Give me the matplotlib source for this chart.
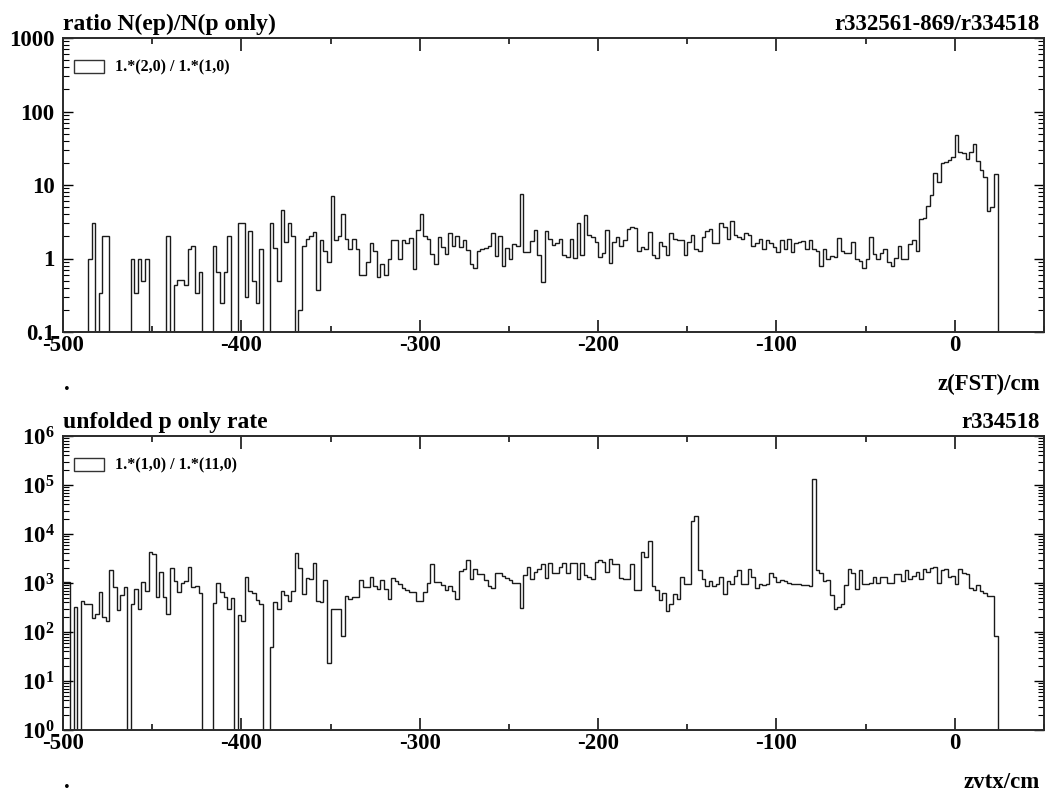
import numpy as np
import matplotlib
matplotlib.use("Agg")
import matplotlib.pyplot as plt
from matplotlib.patches import Rectangle
from matplotlib.ticker import FixedLocator, LogLocator, NullFormatter, FuncFormatter

plt.rcParams["font.family"] = ["Liberation Serif", "DejaVu Serif"]
plt.rcParams["font.weight"] = "bold"
plt.rcParams["mathtext.fontset"] = "custom"
plt.rcParams["mathtext.rm"] = "Liberation Serif:bold"
plt.rcParams["mathtext.bf"] = "Liberation Serif:bold"
plt.rcParams["mathtext.it"] = "Liberation Serif:bold"

# 2 cm bins from -500 to 50 cm
bin_lo, bin_hi, bin_w = -500, 50, 2

# ratio N(ep)/N(p only) per bin
ratio_ep_p = [
    0, 0, 0, 0, 0, 0, 0, 1.0, 3.0, 0,
    0.34, 2.0, 2.0, 0, 0, 0, 0, 0, 0, 1.0,
    0.34, 1.0, 0.5, 1.0, 0, 0, 0, 0, 0, 2.0,
    0, 0.43, 0.51, 0.51, 0.43, 1.34, 1.5, 0.34, 0.66, 0,
    0, 0, 1.5, 0.66, 0.25, 0.66, 2.0, 0, 0, 3.06,
    3.06, 0.30, 2.36, 0.5, 0.25, 1.34, 0, 0, 3.06, 1.41,
    0.5, 4.55, 1.67, 3.06, 2.0, 0, 0.197, 1.5, 1.82, 2.0,
    2.3, 0.37, 1.78, 1.26, 0.89, 7.08, 1.78, 2.0, 4.07, 1.82,
    1.33, 1.82, 1.33, 0.6, 0.6, 0.9, 1.62, 1.26, 0.56, 0.85,
    0.59, 1.0, 1.8, 1.8, 1.0, 1.8, 1.63, 1.9, 0.72, 2.44,
    4.07, 2.04, 1.85, 1.16, 0.85, 1.95, 1.44, 1.16, 2.24, 1.47,
    2.0, 1.44, 1.78, 1.29, 0.83, 0.74, 1.26, 1.35, 1.4, 1.49,
    2.24, 1.08, 2.0, 0.79, 1.38, 0.97, 1.57, 1.49, 7.55, 1.22,
    1.22, 1.72, 2.41, 1.12, 0.48, 2.36, 1.87, 1.55, 1.64, 1.87,
    1.1, 1.05, 1.87, 1.02, 3.0, 1.1, 3.94, 2.08, 1.95, 1.67,
    1.05, 1.2, 2.46, 0.88, 1.67, 1.95, 1.46, 1.8, 2.54, 2.68,
    2.6, 1.26, 1.44, 1.33, 2.26, 1.1, 1.01, 1.67, 1.5, 1.12,
    2.2, 1.82, 1.78, 1.76, 1.1, 1.67, 2.06, 1.35, 1.26, 1.95,
    2.33, 2.51, 1.6, 1.6, 3.0, 2.7, 1.85, 3.2, 2.06, 1.95,
    1.85, 2.24, 2.12, 1.46, 1.6, 1.83, 1.35, 1.78, 1.6, 1.43,
    1.22, 1.76, 1.35, 1.82, 1.23, 1.6, 1.7, 1.74, 1.33, 1.78,
    1.33, 1.25, 0.79, 1.33, 1.0, 1.09, 1.05, 1.88, 1.26, 1.17,
    1.17, 1.67, 1.0, 0.92, 0.75, 1.0, 1.95, 1.15, 1.0, 1.17,
    1.36, 0.9, 0.78, 1.03, 1.5, 1.0, 1.0, 1.57, 1.8, 1.27,
    3.4, 3.6, 5.17, 7.2, 14.4, 11.0, 19.7, 20.8, 21.9, 23.8,
    48.6, 27.9, 27.3, 22.8, 28.5, 35.8, 21.0, 15.8, 12.7, 4.37,
    4.96, 14.1, 0, 0, 0, 0, 0, 0, 0, 0,
    0, 0, 0, 0, 0,
]

# unfolded p-only rate per bin
p_only_rate = [
    1030, 1030, 0, 330, 0, 430, 370, 370, 190, 230,
    670, 200, 170, 1830, 830, 280, 580, 840, 0, 370,
    740, 300, 1050, 700, 4300, 3900, 520, 1700, 520, 230,
    2000, 1100, 650, 1000, 1100, 2150, 830, 850, 620, 0,
    0, 0, 390, 980, 650, 510, 300, 490, 0, 220,
    165, 1300, 690, 620, 450, 370, 0, 0, 50, 410,
    300, 700, 570, 420, 700, 4000, 2000, 600, 1280, 1200,
    2600, 430, 400, 1170, 23, 290, 290, 290, 83, 550,
    465, 520, 520, 1150, 830, 820, 1350, 880, 740, 1150,
    740, 470, 1240, 1100, 950, 790, 720, 650, 650, 420,
    420, 650, 1000, 2450, 1050, 1050, 930, 720, 870, 680,
    480, 1780, 1940, 2950, 1200, 1970, 1520, 1520, 1150, 870,
    780, 1620, 1570, 1390, 1250, 1150, 980, 1000, 305, 1450,
    2150, 1200, 1700, 1900, 2450, 1250, 2600, 1620, 1570, 2150,
    2600, 1570, 2600, 2600, 1200, 2600, 1430, 1350, 1200, 2700,
    2950, 2700, 1680, 3150, 2500, 2400, 1250, 1200, 1200, 2450,
    720, 720, 4300, 3450, 7300, 870, 720, 460, 620, 270,
    370, 600, 480, 1350, 950, 950, 18000, 23000, 1800, 1200,
    870, 1100, 880, 950, 1350, 600, 1100, 950, 1400, 1800,
    950, 950, 1900, 1300, 780, 950, 930, 950, 1600, 1300,
    1050, 1150, 1100, 1000, 960, 950, 960, 920, 900, 870,
    131000, 1800, 1600, 1100, 1150, 580, 300, 330, 370, 900,
    1900, 1600, 740, 1800, 950, 950, 1000, 1300, 1000, 1300,
    1300, 1000, 1000, 1500, 1500, 1100, 1800, 1200, 1400, 1700,
    1200, 1900, 1700, 2000, 2100, 1000, 1800, 1900, 1300, 1400,
    950, 1900, 1600, 1500, 800, 720, 900, 680, 620, 550,
    540, 83, 0, 0, 0, 0, 0, 0, 0, 0,
    0, 0, 0, 0, 0,
]

x_major = [-500, -400, -300, -200, -100, 0]
x_minor = [-450, -350, -250, -150, -50, 50]

panels = [
    dict(values=ratio_ep_p, ylim=(0.1, 1000), title="ratio N(ep)/N(p only)",
         runs="r332561-869/r334518", xlabel="z(FST)/cm",
         legend="1.*(2,0) / 1.*(1,0)", ylabels="plain"),
    dict(values=p_only_rate, ylim=(1, 1e6), title="unfolded p only rate",
         runs="r334518", xlabel="zvtx/cm",
         legend="1.*(1,0) / 1.*(11,0)", ylabels="power"),
]

W, H = 1051, 796
fig = plt.figure(figsize=(W / 100, H / 100), dpi=100)

edges = np.arange(bin_lo, bin_hi + bin_w / 2, bin_w)
axes_px = [(63, 38, 1044, 332), (63, 436, 1044, 730)]

for (x0, y0, x1, y1), p in zip(axes_px, panels):
    ax = fig.add_axes([x0 / W, 1 - y1 / H, (x1 - x0) / W, (y1 - y0) / H])
    ax.set_yscale("log")
    ax.set_xlim(bin_lo, bin_hi)
    ax.set_ylim(*p["ylim"])

    vals = np.asarray(p["values"], dtype=float)
    drawn = np.where(vals > 0, vals, p["ylim"][0] * 1e-3)
    ax.stairs(drawn, edges, color="#1a1a1a", lw=1.0, baseline=None)

    for s in ax.spines.values():
        s.set_linewidth(1.4)
        s.set_color("#2a2a2a")

    ax.xaxis.set_major_locator(FixedLocator(x_major))
    ax.xaxis.set_minor_locator(FixedLocator(x_minor))
    ax.tick_params(axis="x", which="major", direction="in", length=9, width=1.1,
                   top=True, bottom=True, labelsize=16.5, pad=2)
    ax.tick_params(axis="x", which="minor", direction="in", length=4.5, width=1.1,
                   top=True, bottom=True)
    ax.set_xticklabels([str(v) for v in x_major], fontweight="bold")

    ax.yaxis.set_major_locator(LogLocator(base=10, numticks=20))
    ax.yaxis.set_minor_locator(LogLocator(base=10, subs=np.arange(2, 10), numticks=20))
    ax.yaxis.set_minor_formatter(NullFormatter())
    ax.tick_params(axis="y", which="major", direction="in", length=7, width=1.0,
                   left=True, right=True, labelsize=16.5, pad=6)
    ax.tick_params(axis="y", which="minor", direction="in", length=4.5, width=0.8,
                   left=True, right=True)
    if p["ylabels"] == "plain":
        ax.yaxis.set_major_formatter(FuncFormatter(lambda v, _: f"{v:g}"))
    else:
        ax.yaxis.set_major_formatter(
            FuncFormatter(lambda v, _: r"$10^{%d}$" % int(round(np.log10(v)))))
    for lab in ax.get_yticklabels():
        lab.set_fontweight("bold")

    # titles above the frame
    fig.text(x0 / W, (H - y0 + 8) / H, p["title"], fontsize=17,
             fontweight="bold", ha="left", va="baseline")
    fig.text((x1 - 4) / W, (H - y0 + 8) / H, p["runs"], fontsize=16.5,
             fontweight="bold", ha="right", va="baseline")

    # axis label and the small marker dot below the frame
    fig.text((x1 - 4) / W, 1 - (y1 + 58) / H, p["xlabel"], fontsize=16.5,
             fontweight="bold", ha="right", va="baseline")
    fig.text((x0 + 1) / W, 1 - (y1 + 58) / H, ".", fontsize=16.5,
             fontweight="bold", ha="left", va="baseline")

    # legend entry: open box plus label
    fig.patches.append(Rectangle((74 / W, 1 - (y0 + 35) / H), 30 / W, 13 / H,
                                 transform=fig.transFigure, fill=False,
                                 edgecolor="#333333", lw=1.0))
    fig.text(115 / W, 1 - (y0 + 29) / H, p["legend"], fontsize=11.5,
             fontweight="bold", ha="left", va="center")

fig.savefig("out.png", dpi=100)
